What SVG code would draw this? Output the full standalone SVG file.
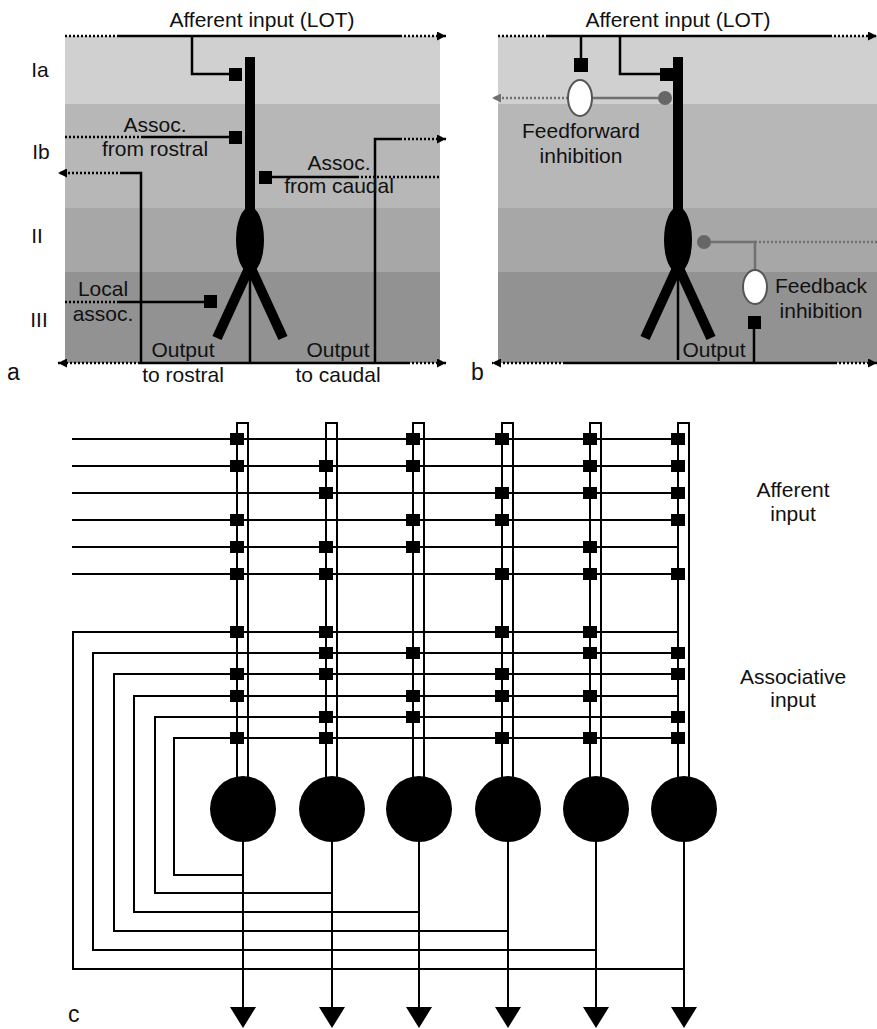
<svg xmlns="http://www.w3.org/2000/svg" width="877" height="1029" viewBox="0 0 877 1029">
<defs>
<style>
.t{font-family:"Liberation Sans",Arial,sans-serif;font-size:21px;fill:#111;text-anchor:middle}
.lbl{font-family:"Liberation Sans",Arial,sans-serif;font-size:23px;fill:#111}
.s{fill:none;stroke:#000;stroke-width:2.5}
.d{fill:none;stroke:#000;stroke-width:2.5;stroke-dasharray:2 2}
.gs{fill:none;stroke:#707070;stroke-width:2.5}
.gd{fill:none;stroke:#707070;stroke-width:2.5;stroke-dasharray:2 2}
.syn{fill:#000}
.thick{stroke:#000;stroke-width:10;fill:none}
.c{fill:none;stroke:#000;stroke-width:2}
.l1{fill:#d0d0d0}.l2{fill:#b7b7b7}.l3{fill:#a7a7a7}.l4{fill:#929292}
</style>
<marker id="arr" viewBox="0 0 10 10" refX="10" refY="5" markerWidth="9" markerHeight="9" markerUnits="userSpaceOnUse" orient="auto"><path d="M0,0 L10,5 L0,10 z" fill="#000"/></marker>
<marker id="garr" viewBox="0 0 10 10" refX="10" refY="5" markerWidth="9" markerHeight="9" markerUnits="userSpaceOnUse" orient="auto"><path d="M0,0 L10,5 L0,10 z" fill="#707070"/></marker>
</defs>
<rect width="877" height="1029" fill="#fff"/>

<!-- Panel a -->
<g id="panel-a-layers">
<rect class="l1" x="65" y="36" width="375" height="68"/>
<rect class="l2" x="65" y="104" width="375" height="104"/>
<rect class="l3" x="65" y="208" width="375" height="64"/>
<rect class="l4" x="65" y="272" width="375" height="91"/>
</g>
<g id="panel-b-layers">
<rect class="l1" x="498" y="36" width="379" height="68"/>
<rect class="l2" x="498" y="104" width="379" height="104"/>
<rect class="l3" x="498" y="208" width="379" height="64"/>
<rect class="l4" x="498" y="272" width="379" height="91"/>
</g>

<g id="connectors-a">
<path class="d" d="M65,36 H117"/>
<path class="s" d="M117,36 H400"/>
<path class="d" d="M400,36 H446" marker-end="url(#arr)"/>
<path class="s" d="M192,36 V74 H229"/>
<path class="d" d="M65,137 H143"/>
<path class="s" d="M143,137 H229"/>
<path class="s" d="M141,363 V173 H122"/>
<path class="d" d="M122,173 H58" marker-end="url(#arr)"/>
<path class="s" d="M272,177 H357"/>
<path class="d" d="M357,177 H440"/>
<path class="s" d="M375,363 V139 H400"/>
<path class="d" d="M400,139 H446" marker-end="url(#arr)"/>
<path class="d" d="M65,302 H117"/>
<path class="s" d="M117,302 H204"/>
<path class="d" d="M140,363 H58" marker-end="url(#arr)"/>
<path class="s" d="M140,363 H408"/>
<path class="d" d="M408,363 H446" marker-end="url(#arr)"/>
<path class="s" d="M250,268 V362"/>
</g>

<g id="neuron-a">
<rect x="245" y="57" width="10" height="160" fill="#000"/>
<ellipse cx="250" cy="240" rx="14" ry="33" fill="#000"/>
<path class="thick" d="M250,266 L217,338 M250,266 L283,338"/>
<rect class="syn" x="229" y="68" width="13" height="13"/>
<rect class="syn" x="229" y="131" width="13" height="13"/>
<rect class="syn" x="259" y="171" width="13" height="13"/>
<rect class="syn" x="204" y="295" width="13" height="13"/>
</g>

<g id="labels-a">
<text class="t" x="262" y="27">Afferent input (LOT)</text>
<text class="t" x="40" y="77">Ia</text>
<text class="t" x="41" y="159">Ib</text>
<text class="t" x="37" y="243">II</text>
<text class="t" x="39" y="327">III</text>
<text class="t" x="155" y="132">Assoc.</text>
<text class="t" x="155" y="156">from rostral</text>
<text class="t" x="339" y="170">Assoc.</text>
<text class="t" x="339" y="193">from caudal</text>
<text class="t" x="103" y="296">Local</text>
<text class="t" x="103" y="321">assoc.</text>
<text class="t" x="183" y="357">Output</text>
<text class="t" x="183" y="382">to rostral</text>
<text class="t" x="338" y="357">Output</text>
<text class="t" x="338" y="382">to caudal</text>
<text class="lbl" x="7" y="380">a</text>
</g>

<!-- Panel b -->
<g id="connectors-b">
<path class="d" d="M498,36 H547"/>
<path class="s" d="M547,36 H830"/>
<path class="d" d="M830,36 H877" marker-end="url(#arr)"/>
<path class="s" d="M581,36 V60"/>
<path class="s" d="M620,36 V74 H660"/>
<path class="gs" d="M592,98 H665"/>
<path class="gd" d="M568,98 H492" marker-end="url(#garr)"/>
<path class="gs" d="M704,242 H755 V270"/>
<path class="gd" d="M755,242 H877"/>
<path class="s" d="M754,328 V363"/>
<path class="d" d="M565,363 H492" marker-end="url(#arr)"/>
<path class="s" d="M565,363 H835"/>
<path class="d" d="M835,363 H877" marker-end="url(#arr)"/>
<path class="s" d="M678,268 V360"/>
</g>

<g id="neuron-b">
<rect x="673" y="57" width="10" height="160" fill="#000"/>
<ellipse cx="678" cy="240" rx="14" ry="33" fill="#000"/>
<path class="thick" d="M678,266 L645,338 M678,266 L711,338"/>
<rect class="syn" x="574" y="58" width="14" height="14"/>
<rect class="syn" x="660" y="68" width="13" height="13"/>
</g>
<g id="feedforward-interneuron">
<ellipse cx="580" cy="98" rx="12" ry="18" fill="#fff" stroke="#555" stroke-width="2"/>
<circle cx="665" cy="98" r="7" fill="#666"/>
</g>
<g id="feedback-interneuron">
<circle cx="704" cy="242" r="7" fill="#666"/>
<ellipse cx="755" cy="287" rx="12" ry="17" fill="#fff" stroke="#555" stroke-width="2"/>
<rect class="syn" x="748" y="316" width="13" height="13"/>
</g>

<g id="labels-b">
<text class="t" x="678" y="27">Afferent input (LOT)</text>
<text class="t" x="581" y="138">Feedforward</text>
<text class="t" x="581" y="163">inhibition</text>
<text class="t" x="821" y="293">Feedback</text>
<text class="t" x="821" y="318">inhibition</text>
<text class="t" x="714" y="357">Output</text>
<text class="lbl" x="471" y="380">b</text>
</g>

<!-- Panel c -->
<g id="connectors-c">
<path class="c" d="M72,439 H678 M72,466 H678 M72,493 H678 M72,520 H678 M72,547 H678 M72,574 H678"/>
<path class="c" d="M684,969 H73 V632 H678"/>
<path class="c" d="M596,950 H93 V653 H678"/>
<path class="c" d="M508,931 H114 V674 H678"/>
<path class="c" d="M419,912 H134 V696 H678"/>
<path class="c" d="M332,893 H155 V717 H678"/>
<path class="c" d="M243,875 H174 V738 H678"/>
<path class="c" d="M243,809 V1010 M332,809 V1010 M419,809 V1010 M508,809 V1010 M596,809 V1010 M684,809 V1010"/>
<path d="M230,1007 H256 L243,1028 z M319,1007 H345 L332,1028 z M406,1007 H432 L419,1028 z M495,1007 H521 L508,1028 z M583,1007 H609 L596,1028 z M671,1007 H697 L684,1028 z" fill="#000"/>
</g>

<g id="cell-1">
<rect class="c" x="237" y="423" width="11" height="360"/>
<circle cx="243" cy="809" r="33" fill="#000"/>
<path class="syn" d="M230,433h14v12h-14z M230,460h14v12h-14z M230,514h14v12h-14z M230,541h14v12h-14z M230,568h14v12h-14z M230,626h14v12h-14z M230,668h14v12h-14z M230,690h14v12h-14z M230,732h14v12h-14z"/>
</g>
<g id="cell-2">
<rect class="c" x="326" y="423" width="11" height="360"/>
<circle cx="332" cy="809" r="33" fill="#000"/>
<path class="syn" d="M319,460h14v12h-14z M319,487h14v12h-14z M319,541h14v12h-14z M319,568h14v12h-14z M319,626h14v12h-14z M319,647h14v12h-14z M319,668h14v12h-14z M319,711h14v12h-14z M319,732h14v12h-14z"/>
</g>
<g id="cell-3">
<rect class="c" x="413" y="423" width="11" height="360"/>
<circle cx="419" cy="809" r="33" fill="#000"/>
<path class="syn" d="M406,433h14v12h-14z M406,460h14v12h-14z M406,514h14v12h-14z M406,541h14v12h-14z M406,647h14v12h-14z M406,690h14v12h-14z M406,711h14v12h-14z"/>
</g>
<g id="cell-4">
<rect class="c" x="502" y="423" width="11" height="360"/>
<circle cx="508" cy="809" r="33" fill="#000"/>
<path class="syn" d="M495,433h14v12h-14z M495,487h14v12h-14z M495,514h14v12h-14z M495,568h14v12h-14z M495,626h14v12h-14z M495,668h14v12h-14z M495,690h14v12h-14z M495,732h14v12h-14z"/>
</g>
<g id="cell-5">
<rect class="c" x="590" y="423" width="11" height="360"/>
<circle cx="596" cy="809" r="33" fill="#000"/>
<path class="syn" d="M583,433h14v12h-14z M583,460h14v12h-14z M583,487h14v12h-14z M583,541h14v12h-14z M583,568h14v12h-14z M583,626h14v12h-14z M583,647h14v12h-14z M583,690h14v12h-14z M583,732h14v12h-14z"/>
</g>
<g id="cell-6">
<rect class="c" x="678" y="423" width="11" height="360"/>
<circle cx="684" cy="809" r="33" fill="#000"/>
<path class="syn" d="M671,433h14v12h-14z M671,460h14v12h-14z M671,487h14v12h-14z M671,514h14v12h-14z M671,568h14v12h-14z M671,647h14v12h-14z M671,668h14v12h-14z M671,711h14v12h-14z M671,732h14v12h-14z"/>
</g>

<g id="labels-c">
<text class="t" x="793" y="497">Afferent</text>
<text class="t" x="793" y="521">input</text>
<text class="t" x="793" y="684">Associative</text>
<text class="t" x="793" y="707">input</text>
<text class="lbl" x="68" y="1022">c</text>
</g>
</svg>
